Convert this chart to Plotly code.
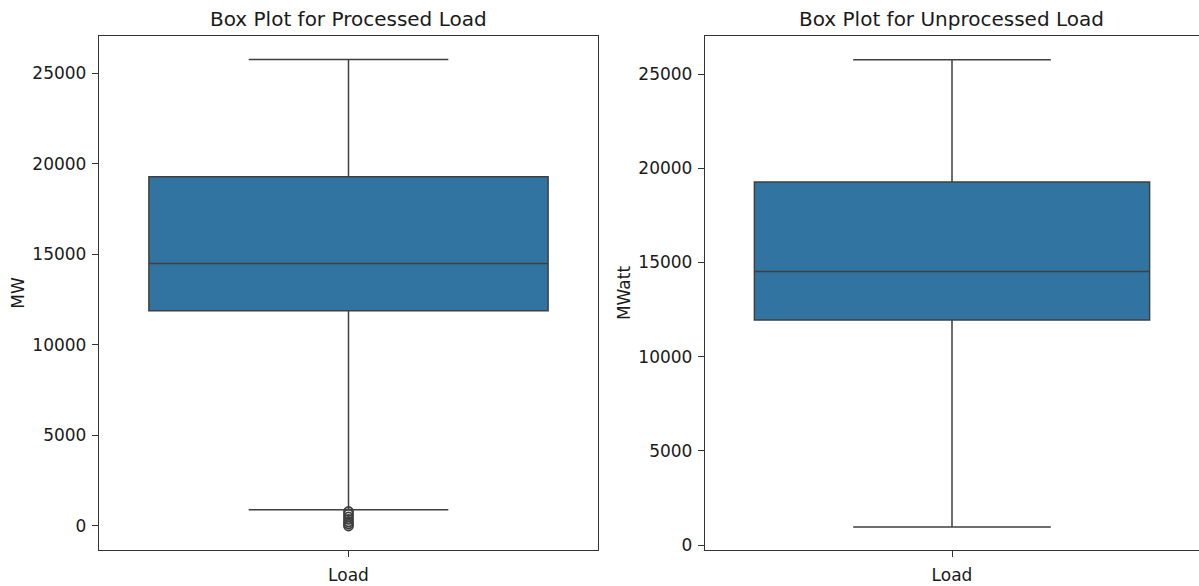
import plotly.graph_objects as go
from plotly.subplots import make_subplots

# Summary statistics of the load series (MW)
categories = ["Load"]

proc_lower = [890]
proc_q1 = [11880]
proc_median = [14480]
proc_q3 = [19270]
proc_upper = [25750]
proc_outliers = [0, 110, 230, 360, 500, 650, 800]

unproc_lower = [955]
unproc_q1 = [11940]
unproc_median = [14520]
unproc_q3 = [19270]
unproc_upper = [25750]

titles = ["Box Plot for Processed Load", "Box Plot for Unprocessed Load"]
y_titles = ["MW", "MWatt"]
y_ticks = [0, 5000, 10000, 15000, 20000, 25000]

BOX_FILL = "#3274a1"
LINE = "#3f3f3f"
FONT = "DejaVu Sans, Liberation Sans, sans-serif"

fig = make_subplots(rows=1, cols=2)

fig.add_trace(go.Box(
    x=categories, q1=proc_q1, median=proc_median, q3=proc_q3,
    lowerfence=proc_lower, upperfence=proc_upper,
    fillcolor=BOX_FILL, line=dict(color=LINE, width=1.5),
    whiskerwidth=0.5, boxpoints=False, showlegend=False, hoverinfo="skip",
), row=1, col=1)

fig.add_trace(go.Scatter(
    x=categories * len(proc_outliers), y=proc_outliers, mode="markers",
    marker=dict(symbol="circle-open", size=9, color=LINE, line=dict(width=1.8, color=LINE)),
    showlegend=False, hoverinfo="skip",
), row=1, col=1)

fig.add_trace(go.Box(
    x=categories, q1=unproc_q1, median=unproc_median, q3=unproc_q3,
    lowerfence=unproc_lower, upperfence=unproc_upper,
    fillcolor=BOX_FILL, line=dict(color=LINE, width=1.5),
    whiskerwidth=0.5, boxpoints=False, showlegend=False, hoverinfo="skip",
), row=1, col=2)

W, H = 1199, 586
ml, mr, mt, mb = 99, 0, 36, 36
pw = W - ml - mr

fig.update_layout(
    width=W, height=H,
    margin=dict(l=ml, r=mr, t=mt, b=mb, autoexpand=False),
    plot_bgcolor="white", paper_bgcolor="white",
    font=dict(family=FONT, size=17, color="#1a1a1a"),
    boxgap=0.2, boxgroupgap=0,
    xaxis=dict(domain=[0, (598 - ml) / pw]),
    xaxis2=dict(domain=[(705 - ml) / pw, 1.0]),
)

axis_common = dict(
    showline=True, linecolor="#333333", linewidth=1.3, mirror=True,
    showgrid=False, zeroline=False, ticks="outside", ticklen=6,
    tickwidth=1.3, tickcolor="#333333",
    tickfont=dict(family=FONT, size=17, color="#1a1a1a"),
)

for col in (1, 2):
    fig.update_xaxes(axis_common, type="category", range=[-0.5, 0.5],
                     ticklabelstandoff=3, row=1, col=col)
    fig.update_yaxes(axis_common, tickvals=y_ticks, ticktext=[str(v) for v in y_ticks],
                     ticklabelstandoff=2,
                     title=dict(text=y_titles[col - 1], font=dict(size=17), standoff=3),
                     row=1, col=col)

fig.update_yaxes(range=[-1325, 27042], row=1, col=1)
fig.update_yaxes(range=[-265, 27017], row=1, col=2)

# Subplot titles centred over each panel
for i, t in enumerate(titles):
    xa = fig.layout.xaxis if i == 0 else fig.layout.xaxis2
    d = xa.domain
    fig.add_annotation(
        text=t, xref="paper", yref="paper", x=(d[0] + d[1]) / 2, y=1.0,
        yshift=3, xanchor="center", yanchor="bottom", showarrow=False,
        font=dict(family=FONT, size=20, color="#1a1a1a"),
    )

fig.write_html("out.html")
